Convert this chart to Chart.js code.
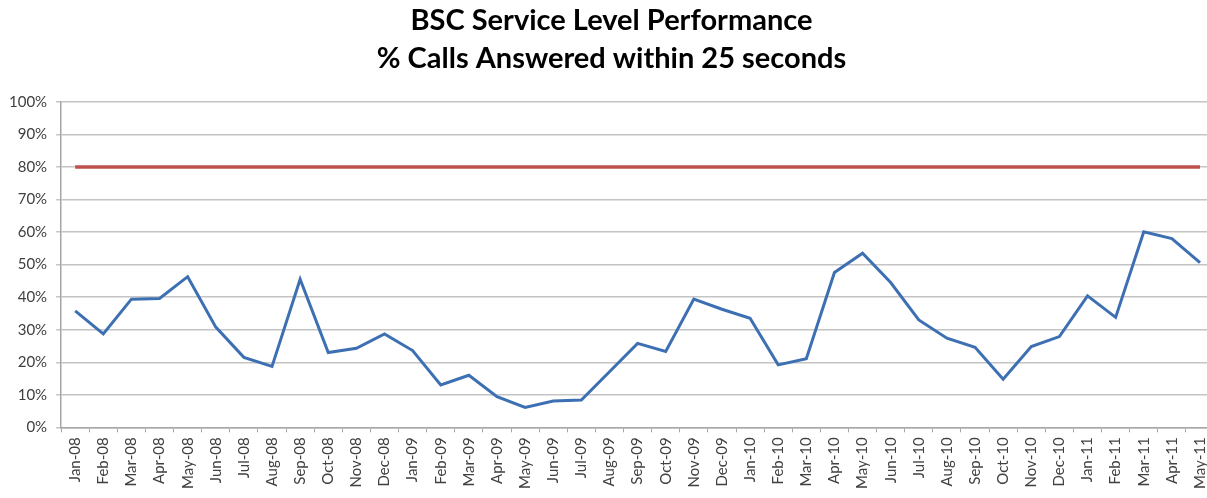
<!DOCTYPE html>
<html>
<head>
<meta charset="utf-8">
<script src="https://cdn.jsdelivr.net/npm/chart.js@4"></script>
<style>
  body { margin: 0; background: #fff; overflow: hidden; }
  #wrap { width: 1223px; height: 498px; position: relative; }
</style>
</head>
<body>
<div id="wrap"><canvas id="slChart"></canvas></div>
<script>
// -------- DATA --------
const months = [
    "Jan-08", "Feb-08", "Mar-08", "Apr-08", "May-08", "Jun-08", "Jul-08", "Aug-08", "Sep-08", "Oct-08", "Nov-08", "Dec-08",
    "Jan-09", "Feb-09", "Mar-09", "Apr-09", "May-09", "Jun-09", "Jul-09", "Aug-09", "Sep-09", "Oct-09", "Nov-09", "Dec-09",
    "Jan-10", "Feb-10", "Mar-10", "Apr-10", "May-10", "Jun-10", "Jul-10", "Aug-10", "Sep-10", "Oct-10", "Nov-10", "Dec-10",
    "Jan-11", "Feb-11", "Mar-11", "Apr-11", "May-11"
];

// % calls answered within 25 seconds
const answeredPct = [
    35.8, 28.7, 39.4, 39.6, 46.3, 30.8, 21.5, 18.7, 45.5, 23.0, 24.3, 28.7,
    23.6, 13.0, 16.0, 9.4, 6.1, 8.1, 8.4, 17.1, 25.8, 23.3, 39.4, 36.3,
    33.5, 19.2, 21.1, 47.6, 53.5, 44.5, 33.0, 27.4, 24.6, 14.8, 24.8, 27.9,
    40.4, 33.8, 60.1, 58.0, 50.6
];

// service level target
const targetPct = months.map(() => 80);

const yTicks = [0, 10, 20, 30, 40, 50, 60, 70, 80, 90, 100];

const titleLines = ["BSC Service Level Performance", "% Calls Answered within 25 seconds"];

// -------- CHART --------
const ctx = document.getElementById("slChart").getContext("2d");

new Chart(ctx, {
    type: "line",
    data: {
        labels: months,
        datasets: [
            {
                label: "Target",
                data: targetPct,
                borderColor: "#C0504D",
                borderWidth: 3.5,
                pointRadius: 0,
                tension: 0
            },
            {
                label: "% Answered",
                data: answeredPct,
                borderColor: "#3D70B2",
                borderWidth: 3,
                pointRadius: 0,
                tension: 0
            }
        ]
    },
    options: {
        responsive: true,
        maintainAspectRatio: false,
        animation: false,
        layout: { padding: { left: 0, right: 0, top: 2, bottom: 4 } },
        plugins: {
            legend: { display: false },
            tooltip: { enabled: false },
            title: {
                display: true,
                text: titleLines,
                color: "#000",
                font: { family: "Lato", size: 29, weight: "bold", lineHeight: 1.31 },
                padding: { top: 0, bottom: 24 }
            }
        },
        scales: {
            x: {
                offset: true,
                grid: {
                    offset: true,
                    drawOnChartArea: false,
                    drawTicks: true,
                    tickLength: 5,
                    color: "#A6A6A6"
                },
                border: { color: "#A6A6A6", width: 1.5 },
                ticks: {
                    autoSkip: false,
                    maxRotation: 90,
                    minRotation: 90,
                    padding: 5,
                    color: "#404040",
                    font: { family: "Lato", size: 15 }
                }
            },
            y: {
                min: 0,
                max: 100,
                afterBuildTicks: axis => {
                    axis.ticks = yTicks.map(v => ({ value: v }));
                },
                grid: {
                    color: "#C4C4C4",
                    lineWidth: 1.5,
                    drawTicks: true,
                    tickLength: 5
                },
                border: { color: "#A6A6A6", width: 1.5 },
                ticks: {
                    padding: 9,
                    color: "#404040",
                    font: { family: "Lato", size: 15 },
                    callback: v => v + "%"
                }
            }
        }
    }
});
</script>
</body>
</html>
